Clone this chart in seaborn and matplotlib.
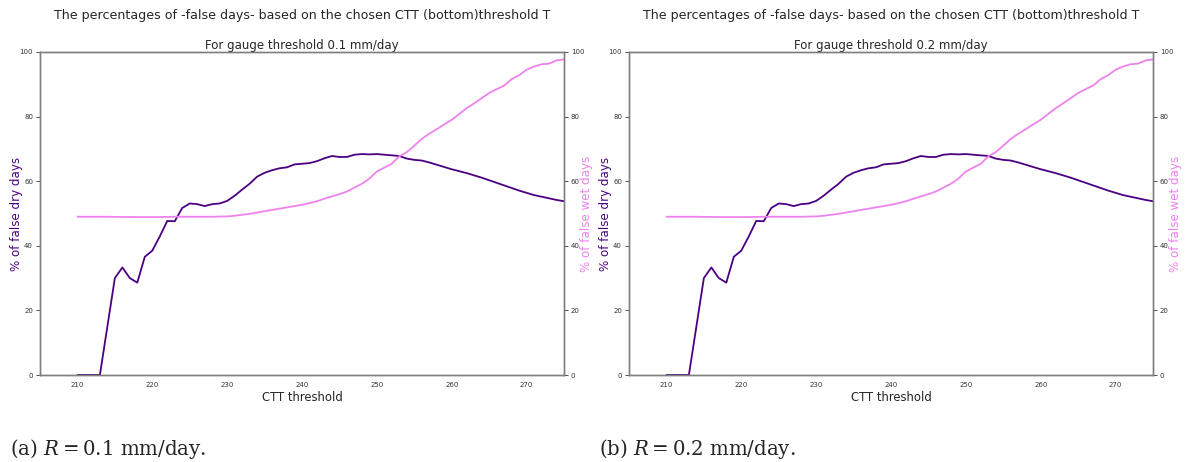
import numpy as np
import pandas as pd
import matplotlib
matplotlib.use("Agg")
import matplotlib.pyplot as plt
import seaborn as sns

sns.set_style("white")
plt.rcParams['font.family'] = ['DejaVu Sans']
plt.rcParams['mathtext.fontset'] = 'dejavuserif'

ctt = list(range(210, 276))

dry_01 = [0, 0, 0, 0, 15, 30, 33.3, 30, 28.6, 36.6, 38.5, 42.9, 47.7, 47.6, 51.7,
          53.1, 52.9, 52.3, 52.9, 53.1, 53.9, 55.5, 57.4, 59.2, 61.4, 62.6, 63.4,
          64.0, 64.3, 65.2, 65.4, 65.6, 66.2, 67.1, 67.8, 67.5, 67.5, 68.2, 68.4,
          68.3, 68.4, 68.2, 68.0, 67.8, 67.0, 66.6, 66.4, 65.8, 65.1, 64.4, 63.7,
          63.1, 62.5, 61.8, 61.1, 60.3, 59.5, 58.7, 57.9, 57.1, 56.4, 55.7, 55.2,
          54.7, 54.2, 53.8]
wet_01 = [49.0, 49.0, 49.0, 49.0, 49.0, 48.95, 48.95, 48.9, 48.9, 48.9, 48.9, 48.9,
          48.95, 49.0, 49.0, 49.0, 49.0, 49.0, 49.0, 49.05, 49.1, 49.3, 49.6, 49.9,
          50.3, 50.7, 51.1, 51.5, 51.9, 52.3, 52.7, 53.2, 53.8, 54.6, 55.3, 56.0,
          56.8, 58.0, 59.2, 60.8, 63.0, 64.2, 65.4, 67.7, 69.0, 71.0, 73.1, 74.7,
          76.1, 77.6, 79.0, 80.8, 82.6, 84.1, 85.7, 87.3, 88.5, 89.6, 91.6, 92.8,
          94.5, 95.5, 96.2, 96.4, 97.4, 97.7]

dry_02 = list(dry_01)
wet_02 = list(wet_01)

panels = [
    ("For gauge threshold 0.1 mm/day", dry_01, wet_01, r"(a) $R = 0.1\ \mathrm{mm/day}$."),
    ("For gauge threshold 0.2 mm/day", dry_02, wet_02, r"(b) $R = 0.2\ \mathrm{mm/day}$."),
]

suptitle = "The percentages of -false days- based on the chosen CTT (bottom)threshold T"
dry_color = "indigo"
wet_color = "violet"
spine_color = "#7f7f7f"

W, H = 1189, 462
fig = plt.figure(figsize=(W / 100, H / 100), dpi=100)

lefts = [40, 629]
for (sub, dry, wet, cap), lx in zip(panels, lefts):
    ax = fig.add_axes([lx / W, (H - 375) / H, 524 / W, 323 / H])
    df = pd.DataFrame({"ctt": ctt, "dry": dry, "wet": wet})
    sns.lineplot(data=df, x="ctt", y="dry", ax=ax, color=dry_color, lw=1.3)
    ax.set_xlim(205, 275)
    ax.set_ylim(0, 100)
    ax.set_xticks([210, 220, 230, 240, 250, 260, 270])
    ax.set_yticks([0, 20, 40, 60, 80, 100])
    ax.tick_params(labelsize=5, length=3, width=0.6, colors="#333333", pad=2)
    ax.set_xlabel("CTT threshold", fontsize=8.4)
    ax.xaxis.set_label_coords(0.5, -(391 - 375) / 323)
    ax.set_ylabel("% of false dry days", fontsize=8.6, color=dry_color)
    ax.yaxis.set_label_coords((23 - 40) / 524, 0.5)
    ax.set_title(sub, fontsize=8.5, pad=2)
    for s in ax.spines.values():
        s.set_color(spine_color)
        s.set_linewidth(1.0)

    ax2 = ax.twinx()
    sns.lineplot(data=df, x="ctt", y="wet", ax=ax2, color=wet_color, lw=1.3)
    ax2.set_ylim(0, 100)
    ax2.set_yticks([0, 20, 40, 60, 80, 100])
    ax2.tick_params(labelsize=5, length=3, width=0.6, colors="#333333", pad=2)
    ax2.set_ylabel("% of false wet days", fontsize=8.6, color=wet_color)
    ax2.yaxis.set_label_coords((580 - 40) / 524, 0.5)
    for s in ax2.spines.values():
        s.set_color(spine_color)
        s.set_linewidth(1.0)

    cx = (lx + 262) / W
    fig.text(cx, 1 - 16 / H, suptitle, ha="center", va="center", fontsize=9.1)
    fig.text((lx - 30) / W, 1 - 449 / H, cap, ha="left", va="center",
             fontsize=14.2, family="DejaVu Serif")

fig.savefig("out.png", dpi=100)
